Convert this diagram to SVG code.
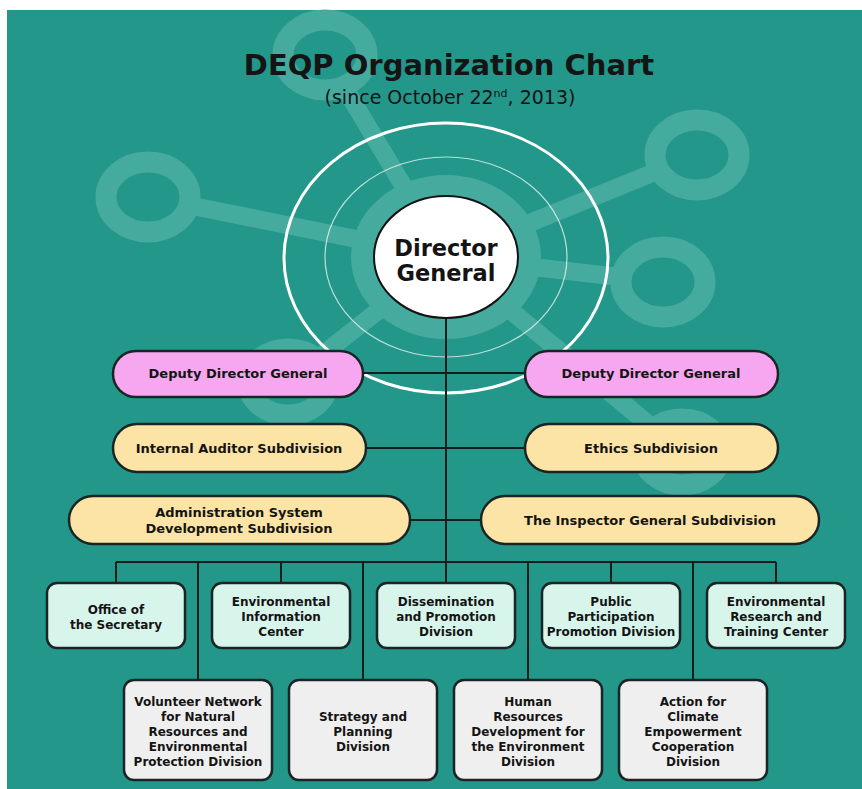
<svg xmlns="http://www.w3.org/2000/svg" width="862" height="789" viewBox="0 0 862 789">
  <defs>
    <style>
      .bg { fill: #22978a; }
      .deco { stroke: #45ab9e; fill: none; stroke-linecap: round; }
      .ring { stroke: #45ab9e; stroke-width: 21; fill: #22978a; }
      .link { stroke: #141c1c; stroke-width: 2; fill: none; }
      .pill { stroke: #1b2424; stroke-width: 2.5; }
      .pink { fill: #f6a7ef; }
      .cream { fill: #fbe4a6; }
      .mint { fill: #d8f5ec; stroke: #1b2424; stroke-width: 2.5; }
      .grey { fill: #efefef; stroke: #1b2424; stroke-width: 2.5; }
      text { font-family: "DejaVu Sans", "Liberation Sans", sans-serif; fill: #141414; text-anchor: middle; }
      .lbl { font-size: 13px; font-weight: bold; }
      .box { font-size: 12px; font-weight: bold; }
    </style>
  </defs>

  <!-- page and panel -->
  <rect width="862" height="789" fill="#ffffff"/>
  <rect class="bg" x="7" y="10" width="855" height="779"/>

  <!-- background molecule decoration -->
  <g id="decoration">
    <line class="deco" stroke-width="18" x1="446" y1="257" x2="325" y2="55"/>
    <line class="deco" stroke-width="18" x1="446" y1="257" x2="148" y2="197"/>
    <line class="deco" stroke-width="18" x1="446" y1="257" x2="697" y2="155"/>
    <line class="deco" stroke-width="18" x1="446" y1="257" x2="663" y2="282"/>
    <line class="deco" stroke-width="18" x1="446" y1="257" x2="288" y2="382"/>
    <line class="deco" stroke-width="18" x1="446" y1="257" x2="682" y2="452"/>
    <ellipse class="ring" cx="325" cy="55" rx="42" ry="35"/>
    <ellipse class="ring" cx="148" cy="197" rx="42" ry="35"/>
    <ellipse class="ring" cx="697" cy="155" rx="42" ry="35"/>
    <ellipse class="ring" cx="663" cy="282" rx="42" ry="35"/>
    <ellipse class="ring" cx="288" cy="382" rx="40" ry="33"/>
    <ellipse class="ring" cx="682" cy="452" rx="40" ry="33"/>
    <ellipse cx="446" cy="257" rx="84" ry="71" fill="none" stroke="#45ab9e" stroke-width="22"/>
    <ellipse cx="446" cy="257" rx="121" ry="100" fill="none" stroke="#ffffff" stroke-opacity="0.7" stroke-width="1.2"/>
    <ellipse cx="446" cy="258" rx="162" ry="135" fill="none" stroke="#ffffff" stroke-width="3"/>
  </g>

  <!-- title -->
  <g id="title">
    <text x="449" y="75" font-size="29" font-weight="bold">DEQP Organization Chart</text>
    <text x="450" y="104" font-size="19">(since October 22<tspan font-size="11" dy="-7">nd</tspan><tspan dy="7">, 2013)</tspan></text>
  </g>

  <!-- connectors -->
  <g id="connectors">
    <line class="link" x1="446" y1="318" x2="446" y2="583"/>
    <line class="link" x1="363" y1="373" x2="525" y2="373"/>
    <line class="link" x1="366" y1="448" x2="525" y2="448"/>
    <line class="link" x1="410" y1="520" x2="481" y2="520"/>
    <line class="link" x1="116" y1="562" x2="776" y2="562"/>
    <line class="link" x1="116" y1="562" x2="116" y2="583"/>
    <line class="link" x1="281" y1="562" x2="281" y2="583"/>
    <line class="link" x1="611" y1="562" x2="611" y2="583"/>
    <line class="link" x1="776" y1="562" x2="776" y2="583"/>
    <line class="link" x1="198" y1="562" x2="198" y2="680"/>
    <line class="link" x1="363" y1="562" x2="363" y2="680"/>
    <line class="link" x1="528" y1="562" x2="528" y2="680"/>
    <line class="link" x1="693" y1="562" x2="693" y2="680"/>
  </g>

  <!-- director general -->
  <g id="director-general">
    <ellipse cx="446" cy="257" rx="72" ry="61" fill="#ffffff" stroke="#141414" stroke-width="2"/>
    <text x="446" y="256" font-size="22.5" font-weight="bold">Director</text>
    <text x="446" y="281" font-size="22.5" font-weight="bold">General</text>
  </g>

  <!-- deputies -->
  <g id="deputy-left">
    <rect class="pill pink" x="113" y="351" width="250" height="46" rx="23"/>
    <text class="lbl" x="238" y="378">Deputy Director General</text>
  </g>
  <g id="deputy-right">
    <rect class="pill pink" x="525" y="351" width="253" height="46" rx="23"/>
    <text class="lbl" x="651" y="378">Deputy Director General</text>
  </g>

  <!-- subdivisions -->
  <g id="internal-auditor">
    <rect class="pill cream" x="113" y="424" width="253" height="48" rx="24"/>
    <text class="lbl" x="239" y="452.5">Internal Auditor Subdivision</text>
  </g>
  <g id="ethics">
    <rect class="pill cream" x="525" y="424" width="253" height="48" rx="24"/>
    <text class="lbl" x="651" y="452.5">Ethics Subdivision</text>
  </g>
  <g id="administration-system">
    <rect class="pill cream" x="69" y="496" width="341" height="48" rx="24"/>
    <text class="lbl" x="239" y="516.5">Administration System</text>
    <text class="lbl" x="239" y="532.5">Development Subdivision</text>
  </g>
  <g id="inspector-general">
    <rect class="pill cream" x="481" y="496" width="338" height="48" rx="24"/>
    <text class="lbl" x="650" y="524.5">The Inspector General Subdivision</text>
  </g>

  <!-- divisions, upper row -->
  <g id="office-secretary">
    <rect class="mint" x="47" y="583" width="138" height="65" rx="10"/>
    <text class="box" x="116" y="614">Office of</text>
    <text class="box" x="116" y="629">the Secretary</text>
  </g>
  <g id="environmental-information">
    <rect class="mint" x="212" y="583" width="138" height="65" rx="10"/>
    <text class="box" x="281" y="606">Environmental</text>
    <text class="box" x="281" y="621">Information</text>
    <text class="box" x="281" y="636">Center</text>
  </g>
  <g id="dissemination-promotion">
    <rect class="mint" x="377" y="583" width="138" height="65" rx="10"/>
    <text class="box" x="446" y="606">Dissemination</text>
    <text class="box" x="446" y="621">and Promotion</text>
    <text class="box" x="446" y="636">Division</text>
  </g>
  <g id="public-participation">
    <rect class="mint" x="542" y="583" width="138" height="65" rx="10"/>
    <text class="box" x="611" y="606">Public</text>
    <text class="box" x="611" y="621">Participation</text>
    <text class="box" x="611" y="636">Promotion Division</text>
  </g>
  <g id="environmental-research">
    <rect class="mint" x="707" y="583" width="138" height="65" rx="10"/>
    <text class="box" x="776" y="606">Environmental</text>
    <text class="box" x="776" y="621">Research and</text>
    <text class="box" x="776" y="636">Training Center</text>
  </g>

  <!-- divisions, lower row -->
  <g id="volunteer-network">
    <rect class="grey" x="124" y="680" width="148" height="100" rx="10"/>
    <text class="box" x="198" y="706">Volunteer Network</text>
    <text class="box" x="198" y="721">for Natural</text>
    <text class="box" x="198" y="736">Resources and</text>
    <text class="box" x="198" y="751">Environmental</text>
    <text class="box" x="198" y="766">Protection Division</text>
  </g>
  <g id="strategy-planning">
    <rect class="grey" x="289" y="680" width="148" height="100" rx="10"/>
    <text class="box" x="363" y="721">Strategy and</text>
    <text class="box" x="363" y="736">Planning</text>
    <text class="box" x="363" y="751">Division</text>
  </g>
  <g id="human-resources">
    <rect class="grey" x="454" y="680" width="148" height="100" rx="10"/>
    <text class="box" x="528" y="706">Human</text>
    <text class="box" x="528" y="721">Resources</text>
    <text class="box" x="528" y="736">Development for</text>
    <text class="box" x="528" y="751">the Environment</text>
    <text class="box" x="528" y="766">Division</text>
  </g>
  <g id="climate-empowerment">
    <rect class="grey" x="619" y="680" width="148" height="100" rx="10"/>
    <text class="box" x="693" y="706">Action for</text>
    <text class="box" x="693" y="721">Climate</text>
    <text class="box" x="693" y="736">Empowerment</text>
    <text class="box" x="693" y="751">Cooperation</text>
    <text class="box" x="693" y="766">Division</text>
  </g>
</svg>
